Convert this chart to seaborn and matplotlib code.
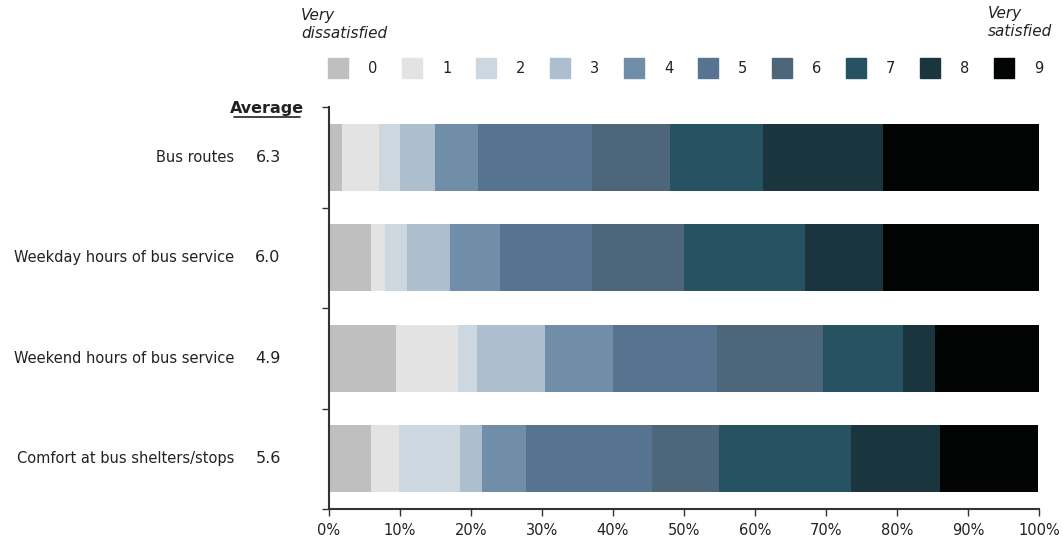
import numpy as np
import pandas as pd
import matplotlib
matplotlib.use("Agg")
import matplotlib.pyplot as plt
import matplotlib.patches as mpatches
import seaborn as sns

# ── datos (porcentaje por puntuacion 0..9) ───────────────────────────────────
items    = ["Bus routes", "Weekday hours of bus service",
            "Weekend hours of bus service", "Comfort at bus shelters/stops"]
averages = ["6.3", "6.0", "4.9", "5.6"]
scores   = ["0", "1", "2", "3", "4", "5", "6", "7", "8", "9"]

bus_routes = [1.9, 5.1, 3.0, 5.0, 6.0, 16.0, 11.0, 13.1, 17.0, 21.9]
weekday    = [5.9, 2.0, 3.1, 6.0, 7.1, 13.0, 12.9, 17.1, 11.0, 21.9]
weekend    = [9.4, 8.8, 2.6, 9.6, 9.6, 14.7, 14.9, 11.3, 4.4, 14.7]
comfort    = [5.9, 4.0, 8.5, 3.1, 6.2, 17.8, 9.4, 18.6, 12.5, 13.8]

colores = ["#bfbfbf", "#e3e3e3", "#ccd7e0", "#adbfcf", "#718ea8",
           "#56748f", "#4d6679", "#275262", "#1b353f", "#020303"]

TXT = "#222222"

sns.set_style("ticks")
plt.rcParams["font.family"] = ["DejaVu Sans"]
plt.rcParams["font.size"] = 10.5

# tabla larga con acumulados
vals = np.array([bus_routes, weekday, weekend, comfort])
cum = np.cumsum(vals, axis=1)
df = pd.DataFrame(cum, columns=scores)
df["item"] = items
df = df.melt(id_vars="item", var_name="score", value_name="cum")

fig = plt.figure(figsize=(10.63, 5.44), dpi=100)
ax = fig.add_axes([0.3095, 0.0643, 0.6679, 0.739])

# barras apiladas: de mayor acumulado a menor, se superponen
for s, c in reversed(list(zip(scores, colores))):
    sub = df[df.score == s]
    sns.barplot(data=sub, x="cum", y="item", order=items, orient="h",
                color=c, width=0.67, linewidth=0, saturation=1, ax=ax)

ax.set_xlim(0, 100)
ax.set_ylim(3.5, -0.5)
ax.set_xticks(np.arange(0, 101, 10))
ax.set_xticklabels([f"{v}%" for v in range(0, 101, 10)], color=TXT)
ax.set_yticks([-0.5, 0.5, 1.5, 2.5, 3.5])
ax.set_yticklabels([])
ax.set_xlabel("")
ax.set_ylabel("")
for side in ["top", "right"]:
    ax.spines[side].set_visible(False)
for side in ["left", "bottom"]:
    ax.spines[side].set_color("#333333")
    ax.spines[side].set_linewidth(1.5)
ax.tick_params(axis="both", length=5, width=1, color="#333333", pad=5)

# etiquetas de categoria y promedio
tr = ax.get_yaxis_transform()
for i, (it, av) in enumerate(zip(items, averages)):
    ax.text(-0.1338, i, it, transform=tr, ha="right", va="center", color=TXT)
    ax.text(-0.0859, i, av, transform=tr, ha="center", va="center",
            color=TXT, fontsize=11.5)
ax.text(-0.0873, -0.49, "Average", transform=tr, ha="center", va="center",
        color=TXT, fontweight="bold", fontsize=11.5)
ax.plot([-0.1335, -0.0410], [-0.405, -0.405], transform=tr, color=TXT,
        lw=1.2, clip_on=False)

# leyenda
handles = [mpatches.Patch(color=c, label=s) for s, c in zip(scores, colores)]
fig.legend(handles=handles, loc="center", bbox_to_anchor=(0.645, 0.875),
           ncol=10, frameon=False, handlelength=1.37, handleheight=1.75,
           handletextpad=1.37, columnspacing=1.7, labelcolor=TXT)

fig.text(301 / 1063, 1 - 8 / 544, "Very\ndissatisfied", ha="left", va="top",
         style="italic", color=TXT, linespacing=1.25, fontsize=11)
fig.text(988 / 1063, 1 - 6 / 544, "Very\nsatisfied", ha="left", va="top",
         style="italic", color=TXT, linespacing=1.25, fontsize=11)

plt.savefig("out.png", dpi=100)
plt.close()
